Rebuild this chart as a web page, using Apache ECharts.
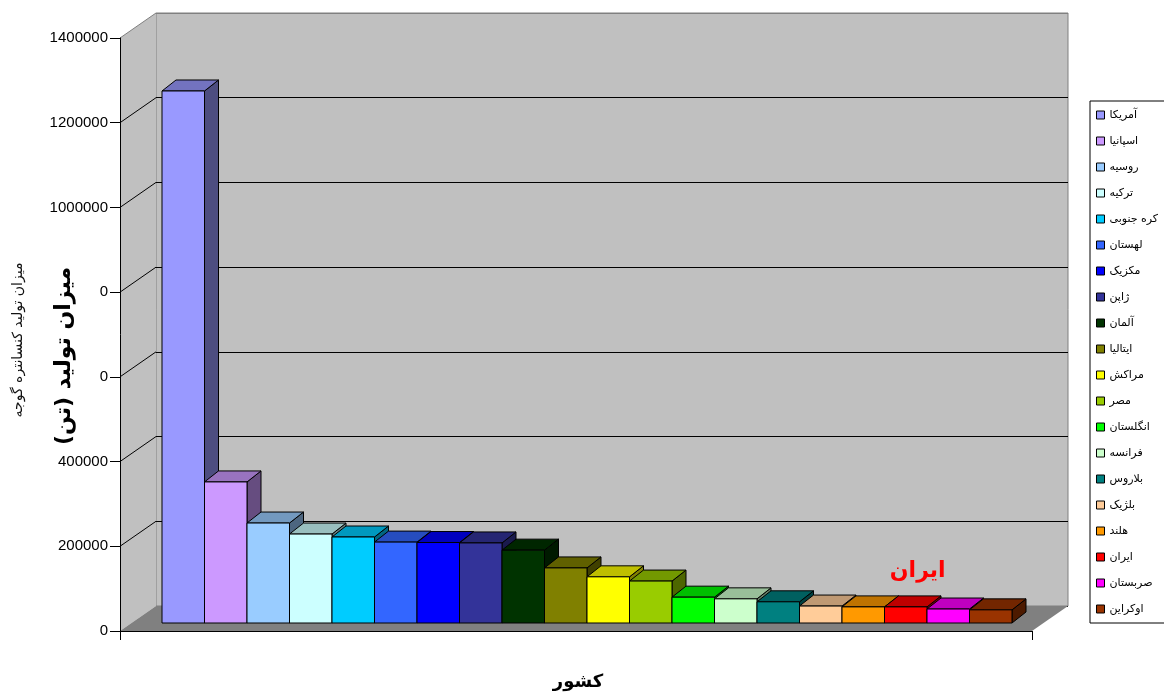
<!DOCTYPE html>
<html>
<head>
<meta charset="utf-8">
<script src="https://cdn.jsdelivr.net/npm/echarts@6/dist/echarts.min.js"></script>
<style>html,body{margin:0;padding:0;background:#fff}#c{width:1164px;height:693px}</style>
</head>
<body>
<div id="c"></div>
<script>
// ---- data ----
const categories = ['آمریکا','اسپانیا','روسیه','ترکیه','کره جنوبی','لهستان','مکزیک','ژاپن','آلمان','ایتالیا','مراکش','مصر','انگلستان','فرانسه','بلاروس','بلژیک','هلند','ایران','صربستان','اوکراین'];
const values = [1256000, 333000, 236000, 210000, 203000, 191000, 190000, 189000, 172000, 130000, 109000, 99000, 61000, 57000, 50000, 40000, 38000, 38000, 33000, 31000];
const colors = ['#9999FF','#CC99FF','#99CCFF','#CCFFFF','#00CCFF','#3366FF','#0000FF','#333399','#003300','#808000','#FFFF00','#99CC00','#00FF00','#CCFFCC','#008080','#FFCC99','#FF9900','#FF0000','#FF00FF','#993300'];
const yMin = 0, yMax = 1400000, yStep = 200000;
const yTitle = 'میزان تولید (تن)';
const yTitleHidden = 'میزان تولید کنسانتره گوجه';
const xTitle = 'کشور';
const highlightName = 'ایران';

// ---- layout (styling) ----
const FRONT = {left:120, top:38, width:912, height:593};
const DEPTH = {dx:36, dy:-25};
const BARS = {left:162, top:30, width:850, height:593};
const BD = {dx:14, dy:-11};

function shade(hex, f){
  const n = parseInt(hex.slice(1),16);
  const r = Math.round(((n>>16)&255)*f), g = Math.round(((n>>8)&255)*f), b = Math.round((n&255)*f);
  return 'rgb('+r+','+g+','+b+')';
}

const chart = echarts.init(document.getElementById('c'), null, {renderer:'canvas'});

const fb = FRONT.top + FRONT.height, fr = FRONT.left + FRONT.width;
const bl = FRONT.left + DEPTH.dx, bt = FRONT.top + DEPTH.dy, bb = fb + DEPTH.dy, br = fr + DEPTH.dx;

const nTicks = Math.round((yMax - yMin)/yStep);
const graphics = [
  {type:'polygon', z:-10, shape:{points:[[FRONT.left,FRONT.top],[bl,bt],[bl,bb],[FRONT.left,fb]]}, style:{fill:'#c0c0c0', stroke:null}},
  {type:'line', z:-9, shape:{x1:FRONT.left,y1:FRONT.top,x2:bl,y2:bt}, style:{stroke:'#808080', lineWidth:1}},
  {type:'polygon', z:-8, shape:{points:[[FRONT.left,fb],[fr,fb],[br,bb],[bl,bb]]}, style:{fill:'#808080', stroke:null}}
];
for (let k = 1; k < nTicks; k++) {
  const off = k*FRONT.height/nTicks;
  graphics.push({type:'line', z:-7, shape:{x1:FRONT.left,y1:fb-off,x2:bl,y2:bb-off}, style:{stroke:'#000', lineWidth:1}});
}
graphics.push(
  {type:'rect', z:100, shape:{x:0,y:228,width:99,height:214}, style:{fill:'#fff'}},
  {type:'text', z:101, x:18, y:340, rotation:Math.PI/2, style:{text:yTitleHidden, font:'14px "DejaVu Sans"', fill:'#111', align:'center', verticalAlign:'middle'}},
  {type:'text', z:101, x:64, y:356, rotation:Math.PI/2, style:{text:yTitle, font:'bold 22px "DejaVu Sans"', fill:'#000', align:'center', verticalAlign:'middle'}},
  {type:'text', z:101, x:578, y:682, style:{text:xTitle, font:'bold 18px "DejaVu Sans"', fill:'#000', align:'center', verticalAlign:'middle'}}
);

function renderItem(params, api){
  const idx = api.value(0), v = api.value(1);
  const top = api.coord([idx, v]), base = api.coord([idx, 0]);
  const w = api.size([1, 0])[0];
  const x0 = top[0] - w/2, x1 = top[0] + w/2, yt = top[1], yb = base[1];
  const c = api.visual('color');
  const children = [
    {type:'polygon', shape:{points:[[x1,yt],[x1+BD.dx,yt+BD.dy],[x1+BD.dx,yb+BD.dy],[x1,yb]]}, style:{fill:shade(c,0.5), stroke:'#000', lineWidth:1}},
    {type:'polygon', shape:{points:[[x0,yt],[x0+BD.dx,yt+BD.dy],[x1+BD.dx,yt+BD.dy],[x1,yt]]}, style:{fill:shade(c,0.75), stroke:'#000', lineWidth:1}},
    {type:'rect', shape:{x:x0, y:yt, width:w, height:yb-yt}, style:{fill:c, stroke:'#000', lineWidth:1}}
  ];
  if (categories[idx] === highlightName) {
    children.push({type:'text', x:top[0]+12, y:yt-36, style:{text:categories[idx], font:'bold 22px "DejaVu Sans"', fill:'#FF0000', align:'center', verticalAlign:'middle'}});
  }
  return {type:'group', children};
}

const series = categories.map((name, i) => ({
  type:'custom', name, xAxisIndex:2, yAxisIndex:2,
  data:[[i, values[i]]], renderItem, itemStyle:{color:colors[i]},
  z: 2 + i, clip:false, silent:true
}));

chart.setOption({
  animation:false,
  color: colors,
  backgroundColor:'#fff',
  graphic:{elements:graphics},
  grid:[
    {left:FRONT.left, top:FRONT.top, width:FRONT.width, height:FRONT.height},
    {left:bl, top:bt, width:FRONT.width, height:FRONT.height, show:true, backgroundColor:'#c0c0c0', borderColor:'#808080', borderWidth:1, z:-20},
    {left:BARS.left, top:BARS.top, width:BARS.width, height:BARS.height}
  ],
  xAxis:[
    {gridIndex:0, type:'value', min:0, max:1, interval:1, axisLine:{show:true, lineStyle:{color:'#000', width:1}}, axisTick:{show:true, length:9, lineStyle:{color:'#000'}}, axisLabel:{show:false}, splitLine:{show:false}, z:5},
    {gridIndex:1, type:'value', min:0, max:1, show:false},
    {gridIndex:2, type:'category', data:categories, show:false, boundaryGap:true}
  ],
  yAxis:[
    {gridIndex:0, type:'value', min:yMin, max:yMax, interval:yStep, axisLine:{show:true, lineStyle:{color:'#000', width:1}}, axisTick:{show:true, length:10, lineStyle:{color:'#000'}}, axisLabel:{fontSize:15, fontFamily:'"Liberation Sans", Arial', color:'#000', margin:12, formatter: v => String(v)}, splitLine:{show:false}, z:5},
    {gridIndex:1, type:'value', min:yMin, max:yMax, interval:yStep, axisLine:{show:false}, axisTick:{show:false}, axisLabel:{show:false}, splitLine:{show:true, lineStyle:{color:['#000','#000','#000','#000','#000','#000','#000','#808080'], width:1}}, z:-15},
    {gridIndex:2, type:'value', min:yMin, max:yMax, show:false}
  ],
  legend:{
    orient:'vertical', left:1090, top:101, itemWidth:8, itemHeight:8, itemGap:12,
    padding:[7,8,7,6], borderColor:'#000', borderWidth:1, borderRadius:0, backgroundColor:'#fff',
    icon:'rect', selectedMode:false,
    itemStyle:{borderColor:'#000', borderWidth:1},
    textStyle:{fontSize:11, fontFamily:'"DejaVu Sans"', color:'#000', lineHeight:14},
    data:categories
  },
  series
});
</script>
</body>
</html>
